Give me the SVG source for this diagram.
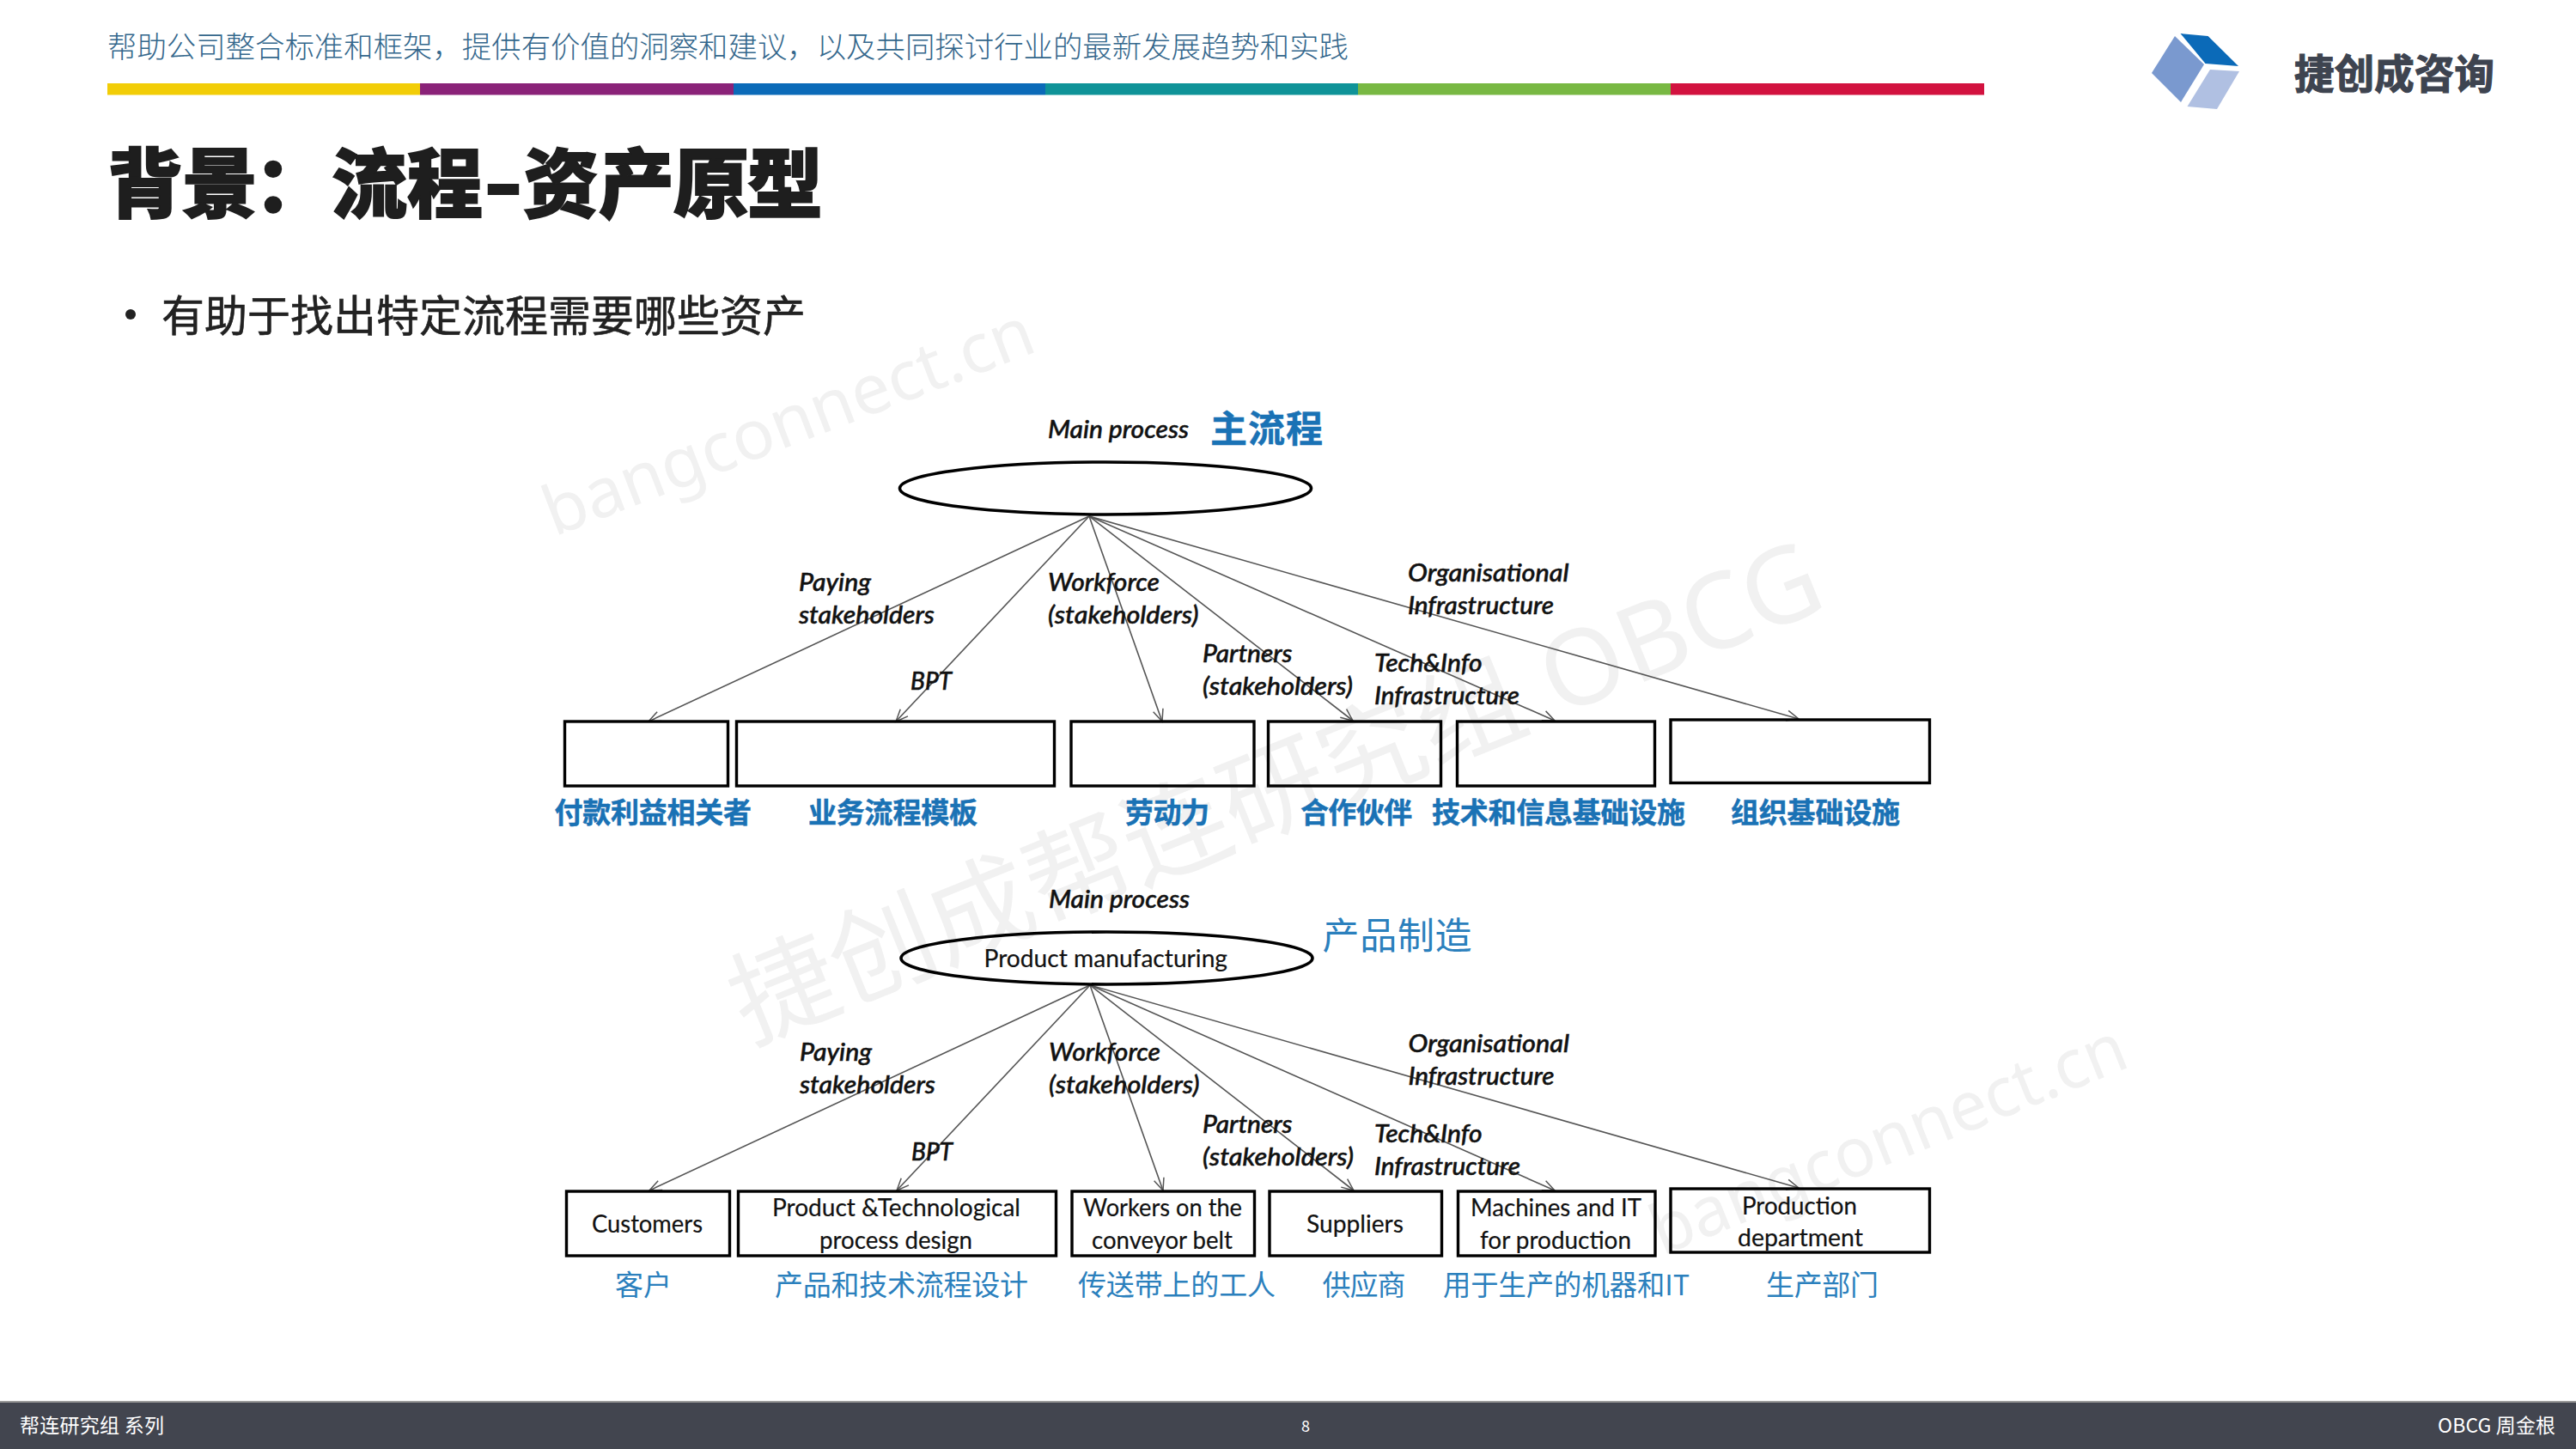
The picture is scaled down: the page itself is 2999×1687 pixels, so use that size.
<svg xmlns="http://www.w3.org/2000/svg" width="2999" height="1687" viewBox="0 0 2999 1687">
<style>
text{font-family:"Noto Sans CJK SC","Noto Sans",sans-serif}
.wm{fill:#f1f1f1;font-family:"Noto Sans","Noto Sans CJK SC",sans-serif}
.l{font-family:Lato,"Liberation Sans",sans-serif;font-style:italic;font-size:28px;font-weight:500;fill:#111;stroke:#111;stroke-width:.5}
.n{font-family:Lato,"Liberation Sans",sans-serif;font-size:28px;fill:#111;stroke:#111;stroke-width:.2}
.cb{font-size:33px;font-weight:700;fill:#1a72b5;stroke:#1a72b5;stroke-width:.5}
.cr{font-size:33px;fill:#2b80bd}
.box{fill:none;stroke:#000;stroke-width:3.4}
.ell{fill:none;stroke:#000;stroke-width:3.6}
.con line{stroke:#555;stroke-width:1.6;marker-end:url(#a)}
.foot{fill:#fff;font-size:23px}
</style>
<defs>
<marker id="a" markerUnits="userSpaceOnUse" markerWidth="18" markerHeight="16" refX="15" refY="7" orient="auto">
<path d="M1 1L15 7L1 13" fill="none" stroke="#555" stroke-width="1.5"/>
</marker>
</defs>
<rect width="2999" height="1687" fill="#fff"/>
<g id="watermarks">
<text class="wm" font-size="80" textLength="605" lengthAdjust="spacingAndGlyphs" transform="translate(645 625) rotate(-21)">bangconnect.cn</text>
<text class="wm" font-size="122" textLength="1357" lengthAdjust="spacingAndGlyphs" transform="translate(872 1215) rotate(-22)">捷创成帮连研究组 OBCG</text>
<text class="wm" font-size="80" textLength="590" lengthAdjust="spacingAndGlyphs" transform="translate(1935 1462) rotate(-22)">bangconnect.cn</text>
</g>
<g id="header">
<text x="125" y="67" font-size="34.4" font-weight="300" fill="#34678c" textLength="1445" lengthAdjust="spacingAndGlyphs">帮助公司整合标准和框架，提供有价值的洞察和建议，以及共同探讨行业的最新发展趋势和实践</text>
<rect x="125" y="97" width="364" height="13.5" fill="#f2cd07"/>
<rect x="489" y="97" width="365" height="13.5" fill="#8a2278"/>
<rect x="854" y="97" width="363" height="13.5" fill="#0b6ab8"/>
<rect x="1217" y="97" width="364" height="13.5" fill="#0f9398"/>
<rect x="1581" y="97" width="364" height="13.5" fill="#78b843"/>
<rect x="1945" y="97" width="365" height="13.5" fill="#d2123f"/>
</g>
<g id="title"><text y="246" font-size="88" font-weight="900" fill="#1e1e1e" stroke="#1e1e1e" stroke-width="1.8"><tspan x="125 212 296 386 474">背景：流程</tspan><tspan x="563" textLength="46" lengthAdjust="spacingAndGlyphs">-</tspan><tspan x="609 697 784 870">资产原型</tspan></text></g>
<g id="bullet"><circle cx="152" cy="366" r="6" fill="#222"/><text x="188" y="386" font-size="50" fill="#222" stroke="#222" stroke-width=".6" textLength="750">有助于找出特定流程需要哪些资产</text></g>
<g id="logo">
<polygon points="2532,42 2566,75 2539,119 2505,85" fill="#7a99cf"/>
<polygon points="2538.5,39 2570.6,42 2606,77 2567.5,74" fill="#0b6ab8"/>
<polygon points="2573,81 2607,83 2581,127 2546.5,124" fill="#b0c0e2"/>
<text x="2671" y="103" font-size="46.4" font-weight="700" fill="#3e4450" stroke="#3e4450" stroke-width="1.2" textLength="233">捷创成咨询</text>
</g>
<g id="connectors-top" class="con">
<line x1="1268" y1="601" x2="755" y2="840"/>
<line x1="1268" y1="601" x2="1043" y2="840"/>
<line x1="1268" y1="601" x2="1353" y2="840"/>
<line x1="1268" y1="601" x2="1575" y2="839"/>
<line x1="1268" y1="601" x2="1810" y2="839"/>
<line x1="1268" y1="601" x2="2094" y2="837"/>
</g>
<g id="connectors-bottom" class="con">
<line x1="1269" y1="1147" x2="756" y2="1386"/>
<line x1="1269" y1="1147" x2="1044" y2="1386"/>
<line x1="1269" y1="1147" x2="1354" y2="1386"/>
<line x1="1269" y1="1147" x2="1576" y2="1386"/>
<line x1="1269" y1="1147" x2="1810" y2="1386"/>
<line x1="1269" y1="1147" x2="2094" y2="1383"/>
</g>
<g id="top-main"><ellipse class="ell" cx="1287" cy="568.5" rx="239.5" ry="30.5"/>
<text class="l" x="1220" y="509.5" textLength="164" lengthAdjust="spacingAndGlyphs">Main process</text>
<text class="cb" x="1409" y="515" font-size="43" style="font-size:43px" textLength="131">主流程</text></g>
<g id="top-paying"><rect class="box" x="657.5" y="840" width="190" height="75"/>
<text class="l" x="930" y="688" textLength="84" lengthAdjust="spacingAndGlyphs">Paying</text>
<text class="l" x="930" y="726" textLength="158" lengthAdjust="spacingAndGlyphs">stakeholders</text>
<text class="cb" x="645.5" y="958" textLength="229.5">付款利益相关者</text></g>
<g id="top-bpt"><rect class="box" x="857.5" y="840" width="370" height="75"/>
<text class="l" x="1060" y="803" textLength="48" lengthAdjust="spacingAndGlyphs">BPT</text>
<text class="cb" x="941" y="958" textLength="197">业务流程模板</text></g>
<g id="top-workforce"><rect class="box" x="1247" y="840" width="213" height="75"/>
<text class="l" x="1220" y="688" textLength="130" lengthAdjust="spacingAndGlyphs">Workforce</text>
<text class="l" x="1220" y="726" textLength="175.5" lengthAdjust="spacingAndGlyphs">(stakeholders)</text>
<text class="cb" x="1310" y="958" textLength="98">劳动力</text></g>
<g id="top-partners"><rect class="box" x="1476.5" y="840" width="201" height="75"/>
<text class="l" x="1400" y="771" textLength="104.5" lengthAdjust="spacingAndGlyphs">Partners</text>
<text class="l" x="1400" y="809" textLength="175" lengthAdjust="spacingAndGlyphs">(stakeholders)</text>
<text class="cb" x="1514" y="958" textLength="130">合作伙伴</text></g>
<g id="top-tech"><rect class="box" x="1696.5" y="840" width="230" height="75"/>
<text class="l" x="1600" y="781.5" textLength="125.5" lengthAdjust="spacingAndGlyphs">Tech&amp;Info</text>
<text class="l" x="1600" y="820" textLength="169" lengthAdjust="spacingAndGlyphs">Infrastructure</text>
<text class="cb" x="1667" y="958" textLength="295">技术和信息基础设施</text></g>
<g id="top-org"><rect class="box" x="1945" y="838" width="301.5" height="73.5"/>
<text class="l" x="1639" y="676.5" textLength="187.5" lengthAdjust="spacingAndGlyphs">Organisational</text>
<text class="l" x="1639" y="715" textLength="170" lengthAdjust="spacingAndGlyphs">Infrastructure</text>
<text class="cb" x="2015" y="958" textLength="197">组织基础设施</text></g>
<g id="bottom-main"><ellipse class="ell" cx="1288.5" cy="1115.5" rx="239.5" ry="30.5"/>
<text class="l" x="1221" y="1057" textLength="164" lengthAdjust="spacingAndGlyphs">Main process</text>
<text class="n" x="1145.5" y="1125.5" textLength="283.5" lengthAdjust="spacingAndGlyphs">Product manufacturing</text>
<text class="cr" style="font-size:43px" x="1539.6" y="1105" textLength="174">产品制造</text></g>
<g id="bottom-customers"><rect class="box" x="659.5" y="1387" width="190" height="75"/>
<text class="l" x="931" y="1235" textLength="84" lengthAdjust="spacingAndGlyphs">Paying</text>
<text class="l" x="931" y="1273" textLength="158" lengthAdjust="spacingAndGlyphs">stakeholders</text>
<text class="n" x="689" y="1435" textLength="129" lengthAdjust="spacingAndGlyphs">Customers</text>
<text class="cr" x="716" y="1508" textLength="66">客户</text></g>
<g id="bottom-design"><rect class="box" x="859.5" y="1387" width="370" height="75"/>
<text class="l" x="1061" y="1351" textLength="48" lengthAdjust="spacingAndGlyphs">BPT</text>
<text class="n" x="899" y="1416" textLength="289" lengthAdjust="spacingAndGlyphs">Product &amp;Technological</text>
<text class="n" x="954" y="1453.5" textLength="178" lengthAdjust="spacingAndGlyphs">process design</text>
<text class="cr" x="902" y="1508" textLength="295">产品和技术流程设计</text></g>
<g id="bottom-workers"><rect class="box" x="1248" y="1387" width="212.5" height="75"/>
<text class="l" x="1221" y="1235" textLength="130" lengthAdjust="spacingAndGlyphs">Workforce</text>
<text class="l" x="1221" y="1273" textLength="175.5" lengthAdjust="spacingAndGlyphs">(stakeholders)</text>
<text class="n" x="1261" y="1416" textLength="185" lengthAdjust="spacingAndGlyphs">Workers on the</text>
<text class="n" x="1271" y="1453.5" textLength="164" lengthAdjust="spacingAndGlyphs">conveyor belt</text>
<text class="cr" x="1255" y="1508" textLength="230">传送带上的工人</text></g>
<g id="bottom-suppliers"><rect class="box" x="1478" y="1387" width="200.5" height="75"/>
<text class="l" x="1400" y="1319" textLength="104.5" lengthAdjust="spacingAndGlyphs">Partners</text>
<text class="l" x="1400" y="1357" textLength="176" lengthAdjust="spacingAndGlyphs">(stakeholders)</text>
<text class="n" x="1521" y="1435" textLength="113" lengthAdjust="spacingAndGlyphs">Suppliers</text>
<text class="cr" x="1539.6" y="1508" textLength="97">供应商</text></g>
<g id="bottom-machines"><rect class="box" x="1697.5" y="1387" width="229.5" height="75"/>
<text class="l" x="1600" y="1330" textLength="125.5" lengthAdjust="spacingAndGlyphs">Tech&amp;Info</text>
<text class="l" x="1600" y="1368" textLength="170" lengthAdjust="spacingAndGlyphs">Infrastructure</text>
<text class="n" x="1712" y="1416" textLength="199" lengthAdjust="spacingAndGlyphs">Machines and IT</text>
<text class="n" x="1723" y="1453.5" textLength="176" lengthAdjust="spacingAndGlyphs">for production</text>
<text class="cr" x="1680" y="1508" textLength="287" lengthAdjust="spacingAndGlyphs">用于生产的机器和IT</text></g>
<g id="bottom-production"><rect class="box" x="1945" y="1384" width="301.5" height="74"/>
<text class="l" x="1639.5" y="1225" textLength="187.5" lengthAdjust="spacingAndGlyphs">Organisational</text>
<text class="l" x="1639.5" y="1263" textLength="170" lengthAdjust="spacingAndGlyphs">Infrastructure</text>
<text class="n" x="2028" y="1413.5" textLength="134" lengthAdjust="spacingAndGlyphs">Production</text>
<text class="n" x="2023" y="1450.5" textLength="146" lengthAdjust="spacingAndGlyphs">department</text>
<text class="cr" x="2056" y="1508" textLength="131">生产部门</text></g>
<g id="footer">
<rect y="1632" width="2999" height="55" fill="#42454f"/>
<rect y="1631" width="2999" height="2" fill="#9a9a9a"/>
<text class="foot" x="23" y="1668" textLength="168">帮连研究组 系列</text>
<text class="foot" x="1520" y="1667" style="font-size:18px" fill="#ccc" text-anchor="middle">8</text>
<text class="foot" x="2838" y="1668" textLength="137">OBCG 周金根</text>
</g>
</svg>
